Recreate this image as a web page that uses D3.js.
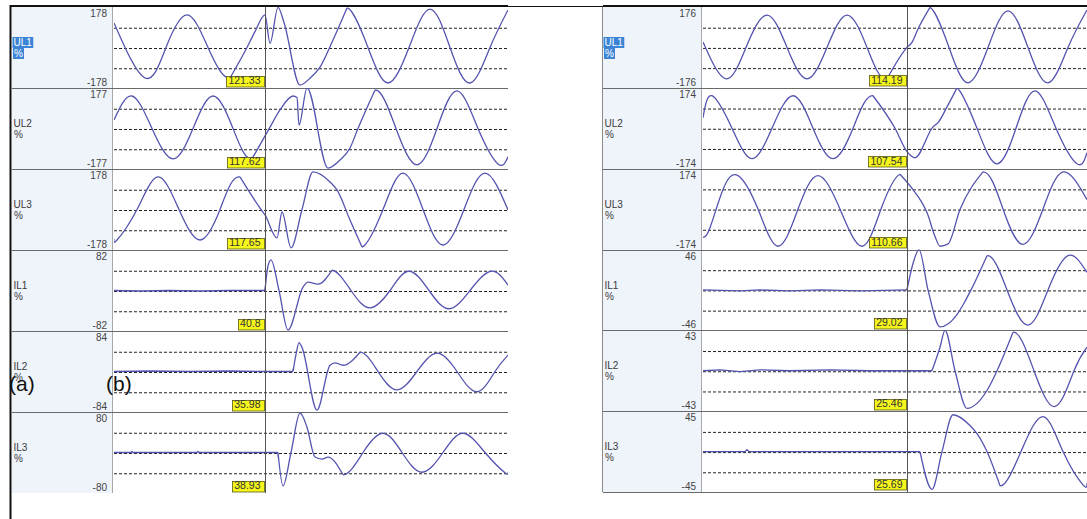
<!DOCTYPE html>
<html>
<head>
<meta charset="utf-8">
<script src="https://cdn.jsdelivr.net/npm/d3@7"></script>
<style>
  body { margin: 0; background: #fff; }
  svg { display: block; }
</style>
</head>
<body>
<div id="chart-area"></div>
<script>
// channels, ranges (+/- %), cursor readouts
const channels = ["UL1", "UL2", "UL3", "IL1", "IL2", "IL3"]
const unit = "%"
const rangeA = [178, 177, 178, 82, 84, 80]
const rangeB = [176, 174, 174, 46, 43, 45]
const readA = ["121.33", "117.62", "117.65", "40.8", "35.98", "38.93"]
const readB = ["114.19", "107.54", "110.66", "29.02", "25.46", "25.69"]

// time shown in each record (ms) and cursor time
const spanA = 98.5, cursorA = 37.75
const spanB = 96, cursorB = 51
// disturbed stretch of each trace [from, to] ms; currents are flat before it
const burstA = [[29, 58.25], [34.5, 65.25], [31.5, 62], [37.75, 54.5], [44.75, 61.5], [41, 57.25]]
const burstB = [[46, 56.75], [42.5, 63.5], [49.25, 70], [51, 71], [57.25, 77.5], [54.25, 74.25]]

// record (a)/(b) left: [ms, %]
const ul1A = [[0,108],[7.75,-134],[13,0],[18.25,143],[23.5,0],[29,-134],[33.25,0],[35.25,70],[37.75,143],[39,18],[41,176],[42.5,110],[46.5,-165],[49,-135],[51.5,-86],[54.75,33],[58.25,174],[63.5,0],[68.5,-156],[73.75,0],[79,169],[84,0],[89,-156],[94,0],[98.5,165]]
const ul2A = [[0,37],[4.5,142],[9.5,0],[14.75,-133],[19.75,0],[24.75,142],[29.75,0],[34.5,-133],[39,6],[41.5,81],[44.75,142],[45.75,135],[46.25,15],[48.25,177],[53.5,-173],[56.5,-138],[59,-85],[61,0],[65.25,168],[70.5,0],[75.75,-159],[80.75,0],[85.75,164],[91,0],[96,-155],[98.5,-124]]
const ul3A = [[0,-130],[0.75,-134],[5.75,0],[11,143],[16.25,0],[21.5,-134],[26.5,0],[31.5,143],[36.75,0],[37.75,-24],[40.75,-125],[42,-11],[44.25,-169],[47,0],[49.75,165],[54,121],[55.75,86],[59,-46],[62,-165],[67.25,0],[72.25,160],[77.25,0],[82.25,-156],[87.5,0],[92.75,160],[98.5,-2]]
const il1A = [[0,0],[6.5,-1],[14,0],[21.5,-1],[29,0],[37.75,0],[38.5,50],[39.25,62],[41.25,0],[43.5,-80],[47.25,7],[48.5,17],[51,13],[54.5,41],[59.25,0],[64,-35],[69,0],[73.75,39],[78.75,0],[83.75,-37],[89,0],[94.25,39],[98.5,11]]
const il2A = [[0,0],[9,1],[19,0],[29,1],[36.5,0],[44.75,0],[45.5,35],[46.25,60],[47,50],[50.75,-80],[54,13],[55.25,18],[57.25,13],[61.5,40],[66,0],[70.75,-38],[75.75,0],[80.75,38],[85.75,0],[90.75,-42],[95.25,0],[98.5,34]]
const il3A = [[0,0],[4.25,0],[4.5,2],[4.75,0],[20.75,0],[21,2],[21.25,0],[41,0],[42.25,-66],[44.25,0],[46.5,78],[48.25,50],[50.25,-9],[52,-13],[53.5,-9],[57.25,-44],[62.25,0],[67.25,38],[72,0],[77,-39],[82.25,0],[87.25,38],[92.75,0],[97.75,-40],[98.5,-38]]

// second record (right)
const ul1B = [[0,24],[5.75,-137],[10.75,0],[16,141],[21,0],[26,-137],[31,0],[36,141],[41,0],[46,-137],[51,0],[52.25,22],[53.75,80],[56.75,174],[61.5,0],[66.25,-154],[71.25,0],[76.25,159],[81.25,0],[86.25,-154],[91.25,0],[96,163]]
const ul2B = [[0,45],[2.25,140],[7.25,0],[12.25,-131],[17.25,0],[22.5,140],[27.5,0],[32.5,-131],[37.5,0],[42.5,140],[48,0],[51,-101],[53,-127],[57.5,6],[58.75,24],[61,92],[63.5,174],[68.5,0],[73.5,-153],[78.25,0],[83,161],[88.25,0],[93.5,-153],[96,-105]]
const ul3B = [[0,-122],[1.75,-80],[5,84],[8.75,144],[13.75,0],[18.75,-160],[23.75,0],[28.75,144],[34.25,0],[39.75,-160],[44.5,0],[49.25,150],[52.5,84],[54.75,28],[56,-15],[58,-118],[59.25,-160],[61.25,-150],[64.25,-2],[70,160],[75,0],[80,-152],[85,0],[90,160],[96,41]]
const il1B = [[0,0],[9.25,-1],[14.25,0],[21.75,-1],[29.25,0],[39.25,-1],[51,0],[52.5,30],[54,46],[56.25,0],[59.25,-42],[63.5,-28],[65.5,-13],[67,0],[71,39],[76,0],[81.25,-40],[86.25,0],[91.25,39],[96,20]]
const il2B = [[0,0],[4.25,1],[9.25,-1],[14.25,1],[21.75,0],[31.75,1],[41.75,0],[57.25,0],[59.25,25],[60.5,43],[63,0],[66,-40],[71,-21],[73.5,0],[77.5,41],[82.75,0],[88,-38],[92.75,0],[96,25]]
const il3B = [[0,0],[10.5,0],[11,2],[11.5,0],[24.25,0],[54.25,0],[57.25,-42],[59.75,0],[62.5,41],[66.75,29],[68.5,20],[71,0],[74.25,-38],[79.5,0],[85,39],[90,0],[95,-37],[96,-35]]

const WIDTH = 1087, HEIGHT = 519
const FONT = '"Liberation Sans Narrow", "Liberation Sans", Arial, sans-serif'
const WAVE = "#5454b0"

const panels = [
  { colX: 12, plotL: 114, plotR: 508, top: 7, bottom: 493, span: spanA, cursor: cursorA, burst: burstA,
    ranges: rangeA, reads: readA, series: [ul1A, ul2A, ul3A, il1A, il2A, il3A], baseLine: false },
  { colX: 603, plotL: 703, plotR: 1087, top: 7, bottom: 492, span: spanB, cursor: cursorB, burst: burstB,
    ranges: rangeB, reads: readB, series: [ul1B, ul2B, ul3B, il1B, il2B, il3B], baseLine: true }
]

const svg = d3.select("#chart-area").append("svg")
  .attr("width", WIDTH)
  .attr("height", HEIGHT)
  .style("font-family", FONT)

svg.append("rect").attr("width", WIDTH).attr("height", HEIGHT).attr("fill", "#fff")
const defs = svg.append("defs")

panels.forEach((p, pi) => {
  const g = svg.append("g").attr("class", "panel-" + pi)
  const x = d3.scaleLinear().domain([0, p.span]).range([p.plotL, p.plotR])
  const rowH = (p.bottom - p.top) / channels.length

  // label column
  g.append("rect")
    .attr("x", p.colX).attr("y", p.top)
    .attr("width", p.plotL - p.colX - 2).attr("height", p.bottom - p.top)
    .attr("fill", "#eff3fa")
  g.append("line")
    .attr("x1", p.plotL - 1.5).attr("x2", p.plotL - 1.5)
    .attr("y1", p.top).attr("y2", p.bottom)
    .attr("stroke", "#a8a8a8")

  channels.forEach((name, i) => {
    const r = p.ranges[i]
    const y0 = p.top + i * rowH, y1 = y0 + rowH
    const y = d3.scaleLinear().domain([-r, r]).range([y1, y0])

    // dashed quarter lines
    const grid = g.append("g")
      .attr("transform", `translate(${p.plotL},0)`)
      .call(d3.axisRight(y).tickValues([r / 2, 0, -r / 2]).tickSize(p.plotR - p.plotL).tickFormat(""))
    grid.select(".domain").remove()
    grid.selectAll("line")
      .attr("stroke", "#222")
      .attr("stroke-dasharray", "3,2")
      .attr("transform", "translate(0,0.5)")

    // range labels
    const ax = g.append("g")
      .attr("transform", `translate(${p.plotL - 7},0)`)
      .call(d3.axisLeft(y).tickValues([r, -r]).tickSize(0).tickPadding(0).tickFormat(d => String(d)))
    ax.select(".domain").remove()
    ax.selectAll("text")
      .attr("dy", d => d > 0 ? 9.5 : -2.5)
      .attr("fill", "#444")
      .style("font-size", "10px")
      .style("font-family", FONT)

    // row separator
    if (i < channels.length - 1 || p.baseLine) {
      g.append("line")
        .attr("x1", p.colX).attr("x2", p.plotR)
        .attr("y1", Math.round(y1) + 0.5).attr("y2", Math.round(y1) + 0.5)
        .attr("stroke", "#6a6a6a")
    }

    // channel name + unit
    const lab = g.append("g")
    const l1 = lab.append("text").attr("x", p.colX + 1.5).attr("y", y0 + 39).text(name)
    const l2 = lab.append("text").attr("x", p.colX + 2).attr("y", y0 + 50).text(unit)
    lab.selectAll("text").style("font-size", "10px").attr("fill", "#3a3a3a")
    if (i === 0) {
      [l1, l2].forEach(t => {
        const b = t.node().getBBox()
        lab.insert("rect", "text")
          .attr("x", b.x - 1).attr("y", b.y)
          .attr("width", b.width + 2).attr("height", b.height)
          .attr("fill", "#3b84d6")
      })
      lab.selectAll("text").attr("fill", "#fff")
    }

    // waveform
    // steady cycles: natural spline; disturbed stretch: monotone spline; flat pre-fault currents: straight
    const [wa, wb] = p.burst[i]
    const isCurrent = i >= 3
    const data = p.series[i]

    const rowClip = `row-${pi}-${i}`
    defs.append("clipPath").attr("id", rowClip)
      .append("rect")
      .attr("x", p.plotL).attr("y", y0)
      .attr("width", p.plotR - p.plotL).attr("height", rowH)

    const outClip = `out-${pi}-${i}`
    const oc = defs.append("clipPath").attr("id", outClip)
    oc.append("rect").attr("x", p.plotL).attr("y", y0)
      .attr("width", Math.max(0, x(wa) - p.plotL)).attr("height", rowH)
    oc.append("rect").attr("x", x(wb)).attr("y", y0)
      .attr("width", p.plotR - x(wb)).attr("height", rowH)

    const mk = curve => d3.line().x(d => x(d[0])).y(d => y(d[1])).curve(curve)
    const rowG = g.append("g").attr("clip-path", `url(#${rowClip})`)
    const addPath = (pts, gen, clip) => rowG.append("path")
      .datum(pts)
      .attr("clip-path", clip ? `url(#${clip})` : null)
      .attr("fill", "none")
      .attr("stroke", WAVE)
      .attr("stroke-width", 1.3)
      .attr("stroke-linejoin", "round")
      .attr("d", gen)

    if (isCurrent) {
      addPath(data.filter(d => d[0] <= wa), mk(d3.curveLinear))
      addPath(data.filter(d => d[0] >= wa), mk(d3.curveNatural), outClip)
    } else {
      addPath(data, mk(d3.curveNatural), outClip)
    }
    addPath(data.filter(d => d[0] >= wa && d[0] <= wb), mk(d3.curveMonotoneX))

    // cursor readout
    const cx = x(p.cursor)
    const box = g.append("g")
    const rect = box.append("rect")
    const txt = box.append("text")
      .attr("x", cx - 4.5).attr("y", y1 - 4)
      .attr("text-anchor", "end")
      .style("font-size", "10.5px")
      .attr("fill", "#333")
      .text(p.reads[i])
    const tb = txt.node().getBBox()
    rect.attr("x", Math.round(tb.x - 2.5) + 0.5).attr("y", Math.round(y1 - 12.5) + 0.5)
      .attr("width", Math.round(cx - 1.5 - (tb.x - 2.5)))
      .attr("height", 10.5)
      .attr("fill", "#f6f61c")
      .attr("stroke", "#5a5a10")
      .attr("stroke-width", 0.8)
  })

  // cursor line
  const cxl = Math.round(x(p.cursor)) + 0.5
  g.append("line")
    .attr("x1", cxl).attr("x2", cxl)
    .attr("y1", p.top).attr("y2", p.bottom)
    .attr("stroke", "#555")
})

// frame
svg.append("line").attr("x1", 602.5).attr("x2", 602.5).attr("y1", 7).attr("y2", 492).attr("stroke", "#8a8a8a")
svg.append("line").attr("x1", 10).attr("x2", WIDTH).attr("y1", 6.5).attr("y2", 6.5).attr("stroke", "#111").attr("stroke-width", 1.2)
svg.append("line").attr("x1", 10).attr("x2", 508).attr("y1", 6).attr("y2", 6).attr("stroke", "#111").attr("stroke-width", 2)
svg.append("line").attr("x1", 603).attr("x2", WIDTH).attr("y1", 6).attr("y2", 6).attr("stroke", "#111").attr("stroke-width", 2)
svg.append("line").attr("x1", 10.5).attr("x2", 10.5).attr("y1", 5).attr("y2", HEIGHT).attr("stroke", "#111").attr("stroke-width", 2)

// sub-figure marks
svg.append("g").selectAll("text")
  .data([["(a)", 9], ["(b)", 106]])
  .join("text")
  .attr("x", d => d[1]).attr("y", 391)
  .style("font-family", '"Liberation Sans", Arial, sans-serif')
  .style("font-size", "21px")
  .attr("fill", "#111")
  .text(d => d[0])
</script>
</body>
</html>
